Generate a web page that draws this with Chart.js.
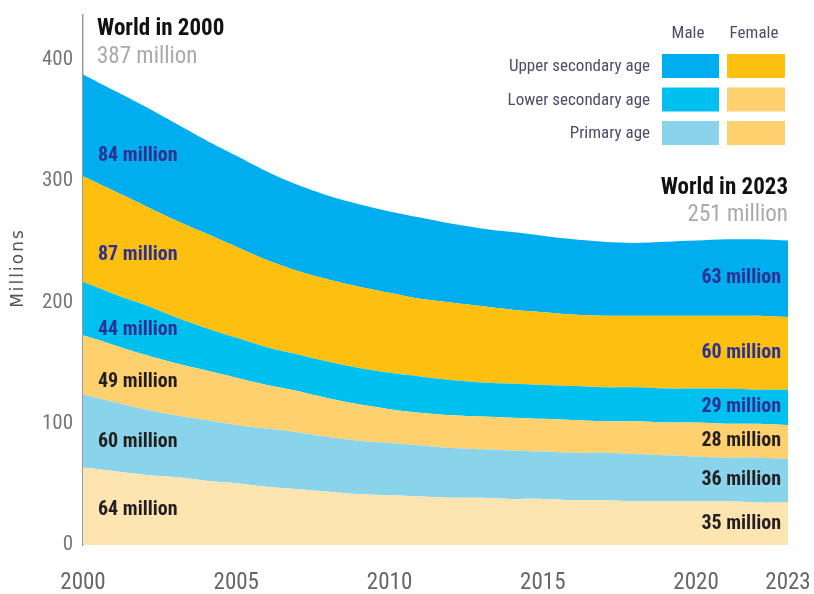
<!DOCTYPE html>
<html><head><meta charset="utf-8">
<script src="https://cdn.jsdelivr.net/npm/chart.js@4.4.1/dist/chart.umd.min.js"></script>
<style>html,body{margin:0;padding:0;background:#fff}#wrap{width:814px;height:594px}</style>
</head><body><div id="wrap"><canvas id="c" width="814" height="594"></canvas></div>
<script>
const years = [2000,2001,2002,2003,2004,2005,2006,2007,2008,2009,2010,2011,2012,2013,2014,2015,2016,2017,2018,2019,2020,2021,2022,2023];
const primaryFemale = [64,61,58,56,53,51,48,46,44,42,41,40,39,39,38,38,37,37,36,36,36,36,35,35];
const primaryMale   = [60,57,54,51,50,48,48,47,45,44,43,42,41,40,40,39,39,39,39,38,37,36,37,36];
const lowerFemale   = [49,47,45,43,41,39,36,34,32,30,28,27,27,27,27,27,27,26,27,27,28,28,28,28];
const lowerMale     = [44,42,41,38,35,33,31,30,30,30,30,30,29,28,28,28,28,28,28,28,28,29,28,29];
const upperFemale   = [87,85,82,80,78,75,72,69,68,67,66,64,64,63,61,60,59,59,59,60,60,60,61,60];
const upperMale     = [84,83,82,80,77,75,73,71,69,68,67,67,65,64,64,63,62,61,60,61,62,63,63,63];
const tickYears = [2000,2005,2010,2015,2020,2023];
const yTicks = [0,100,200,300,400];
const worldTotals = [387, 251];
const legendRows = ['Upper secondary age','Lower secondary age','Primary age'];
const legendCols = ['Male','Female'];

const NARROW = "'Liberation Sans Narrow','Arial Narrow','Roboto Condensed','Open Sans',sans-serif";
const series = [
  {name:'Primary age, female', data:primaryFemale, color:'#FCE5B1', text:'#231F20'},
  {name:'Primary age, male', data:primaryMale, color:'#8AD4EB', text:'#231F20'},
  {name:'Lower secondary age, female', data:lowerFemale, color:'#FED06E', text:'#231F20'},
  {name:'Lower secondary age, male', data:lowerMale, color:'#00C0F0', text:'#2E3192'},
  {name:'Upper secondary age, female', data:upperFemale, color:'#FDC010', text:'#2E3192'},
  {name:'Upper secondary age, male', data:upperMale, color:'#00AEEF', text:'#2E3192'}
];
const legendColors = [['#00AEEF','#FDC010'],['#00C0F0','#FED06E'],['#8AD4EB','#FED06E']];

const overlay = {
  id:'overlay',
  afterDraw(chart){
    const ctx = chart.ctx, y = chart.scales.y, x = chart.scales.x;
    ctx.save();
    ctx.textBaseline = 'middle';
    // titles
    ctx.fillStyle = '#111'; ctx.textAlign = 'left';
    ctx.font = "bold 23px " + NARROW;
    ctx.fillText('World in ' + years[0], 97, 29);
    ctx.fillStyle = '#A7A9AC'; ctx.font = "23px " + NARROW;
    ctx.fillText(worldTotals[0] + ' million', 97, 57);
    ctx.textAlign = 'right'; ctx.fillStyle = '#111';
    ctx.font = "bold 23px " + NARROW;
    ctx.fillText('World in ' + years[years.length-1], x.right, 188);
    ctx.fillStyle = '#A7A9AC'; ctx.font = "23px " + NARROW;
    ctx.fillText(worldTotals[1] + ' million', x.right, 215);
    // layer labels
    ctx.font = "bold 20px " + NARROW;
    const li = 2, ri = years.length - 2;
    let cl = 0, cr = 0;
    series.forEach(s => {
      const vl = s.data[0], vr = s.data[s.data.length-1];
      const ml = cl + s.data[li]/2, mr = cr + s.data[ri]/2;
      cl += s.data[li]; cr += s.data[ri];
      ctx.fillStyle = s.text;
      ctx.textAlign = 'left';
      ctx.fillText(vl + ' million', 98, y.getPixelForValue(ml));
      ctx.textAlign = 'right';
      ctx.fillText(vr + ' million', x.right - 7, y.getPixelForValue(mr));
    });
    // legend
    ctx.fillStyle = '#4D4D6B'; ctx.font = "17px " + NARROW;
    ctx.textAlign = 'center';
    ctx.fillText(legendCols[0], 688, 34);
    ctx.fillText(legendCols[1], 754, 34);
    legendRows.forEach((r, i) => {
      const top = 54 + i*33.5;
      ctx.fillStyle = '#4D4D6B'; ctx.textAlign = 'right';
      ctx.fillText(r, 650, top + 13);
      ctx.fillStyle = legendColors[i][0]; ctx.fillRect(662, top, 57, 24);
      ctx.fillStyle = legendColors[i][1]; ctx.fillRect(727, top, 58, 24);
    });
    // y title
    ctx.translate(19, 268); ctx.rotate(-Math.PI/2);
    ctx.fillStyle = '#555'; ctx.font = "17px 'DejaVu Sans',sans-serif";
    ctx.textAlign = 'center';
    try { ctx.letterSpacing = '2px'; } catch(e) {}
    ctx.fillText('Millions', 0, 0);
    ctx.restore();
  }
};

new Chart(document.getElementById('c'), {
  type:'line',
  data:{
    datasets: series.map((s, i) => ({
      label: s.name,
      data: years.map((yr, k) => ({x: yr, y: s.data[k]})),
      backgroundColor: s.color,
      borderColor: s.color,
      borderWidth: 0,
      pointRadius: 0,
      fill: i === 0 ? 'origin' : '-1',
      tension: 0.3
    }))
  },
  options:{
    responsive:false, animation:false,
    layout:{padding:{left:0,right:26,top:15,bottom:0}},
    plugins:{legend:{display:false}, tooltip:{enabled:false}},
    scales:{
      x:{type:'linear', min:2000, max:2023,
        grid:{display:false, drawTicks:false}, border:{display:false},
        afterBuildTicks: s => { s.ticks = tickYears.map(v => ({value:v})); },
        ticks:{padding:24, color:'#666', font:{family:NARROW, size:23}, maxRotation:0, autoSkip:false, callback: v => String(v)},
        afterFit: s => { s.height = 49; s.paddingLeft = 0; s.paddingRight = 0; }
      },
      y:{stacked:true, min:0, max:437,
        grid:{display:false, drawTicks:false}, border:{display:true, color:'#9A9A9A', width:1.5},
        afterBuildTicks: s => { s.ticks = yTicks.map(v => ({value:v})); },
        ticks:{padding:10, color:'#777', font:{family:NARROW, size:21}},
        afterFit: s => { s.width = 83; s.paddingTop = 0; s.paddingBottom = 0; }
      }
    }
  },
  plugins:[overlay]
});
</script></body></html>
